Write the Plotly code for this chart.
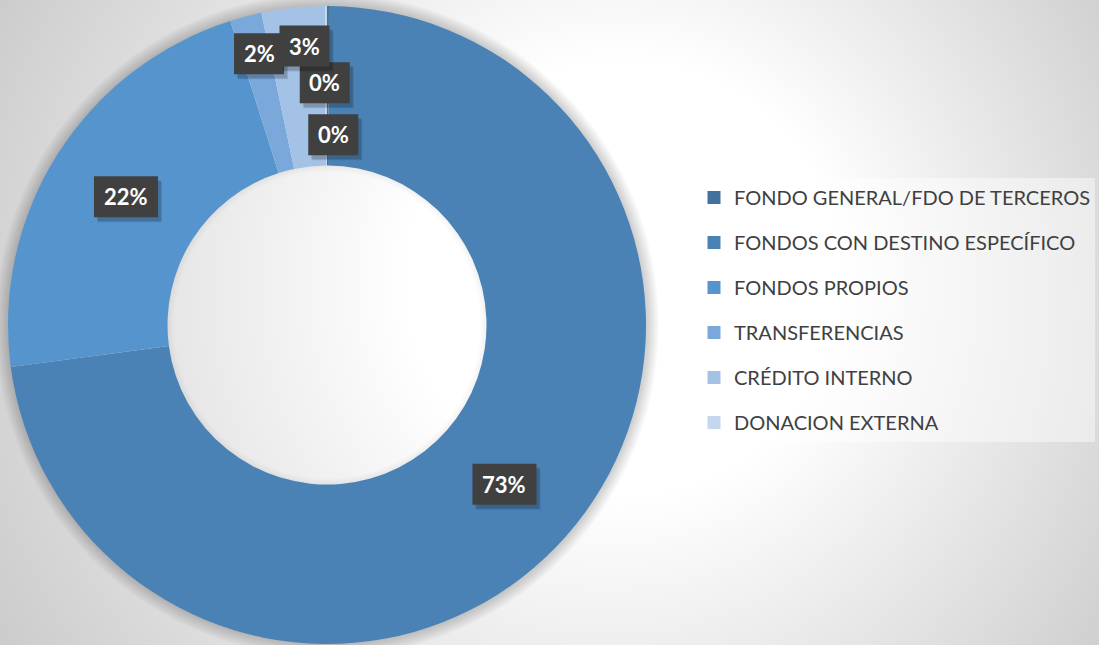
import base64
import math
import plotly.graph_objects as go

# ---------------- data ----------------
categories = [
    "FONDO GENERAL/FDO DE TERCEROS",
    "FONDOS CON DESTINO ESPECÍFICO",
    "FONDOS PROPIOS",
    "TRANSFERENCIAS",
    "CRÉDITO INTERNO",
    "DONACION EXTERNA",
]
values = [0.1, 72.8, 22.2, 1.6, 3.2, 0.1]

# ---------------- styles ----------------
colors = ["#41719c", "#4a82b5", "#5594cc", "#7aa8da", "#a3c2e5", "#c5d7ee"]
# pixel nudges for the data labels (collision avoidance like the original)
label_nudge = [(-3, -3), (-2, 1), (1, 0), (-7, -40), (3, -41), (7, 49)]

W, H = 1099, 645
CX, CY, R_OUT = 327, 325, 319
HOLE = 0.5
R_IN = R_OUT * HOLE
R_MID = (R_OUT + R_IN) / 2

dom_x = [(CX - R_OUT) / W, (CX + R_OUT) / W]
dom_y = [1 - (CY + R_OUT) / H, 1 - (CY - R_OUT) / H]

fig = go.Figure()
fig.add_trace(go.Pie(
    labels=categories,
    values=values,
    hole=HOLE,
    sort=False,
    direction="clockwise",
    rotation=0,
    marker=dict(colors=colors, line=dict(width=0)),
    textinfo="none",
    showlegend=False,
    domain=dict(x=dom_x, y=dom_y),
))

# legend entries (one per category)
for i, (cat, col) in enumerate(zip(categories, colors)):
    fig.add_trace(go.Scatter(
        x=[None], y=[None], mode="markers", name=cat,
        marker=dict(symbol="square", size=13, color=col),
        legendgroup=f"g{i}", showlegend=True, hoverinfo="skip",
    ))


def circle_pts(r, n=120):
    pts = []
    for k in range(n):
        a = 2 * math.pi * k / n
        x = (CX + r * math.cos(a)) / W
        y = 1 - (CY + r * math.sin(a)) / H
        pts.append(f"{x:.5f},{y:.5f}")
    return "M" + " L".join(pts) + " Z"


shapes = []
# soft outer glow around the doughnut (rings only)
for k in range(1, 9):
    r = R_OUT + k * 1.6
    shapes.append(dict(
        type="path", xref="paper", yref="paper", layer="below",
        path=circle_pts(r) + " " + circle_pts(R_OUT - 2),
        fillrule="evenodd",
        fillcolor="rgba(0,0,0,0.022)", line=dict(width=0),
    ))
# slight inner shade in the hole
for k in range(1, 5):
    r = R_IN - k * 1.5
    shapes.append(dict(
        type="path", xref="paper", yref="paper", layer="below",
        path=circle_pts(R_IN + 2) + " " + circle_pts(r),
        fillrule="evenodd",
        fillcolor="rgba(0,0,0,0.012)", line=dict(width=0),
    ))

# data labels computed from the values (dark boxes with a drop shadow)
total = sum(values)
cum = 0.0
annotations = []
for i, v in enumerate(values):
    mid = (cum + v / 2) / total * 2 * math.pi
    cum += v
    px = CX + R_MID * math.sin(mid) + label_nudge[i][0]
    py = CY - R_MID * math.cos(mid) + label_nudge[i][1]
    txt = f"{round(v / total * 100)}%"
    xp, yp = px / W, 1 - py / H
    bw, bh = 22 + 14 * len(txt), 41
    for (dx, dy, col) in [(4, -5, "rgba(0,0,0,0.10)"), (3, -4, "rgba(0,0,0,0.14)"),
                          (0, 0, "#404040")]:
        shapes.append(dict(
            type="rect", layer="above",
            xref="paper", yref="paper", xsizemode="pixel", ysizemode="pixel",
            xanchor=xp, yanchor=yp,
            x0=-bw / 2 + dx, x1=bw / 2 + dx, y0=-bh / 2 + dy, y1=bh / 2 + dy,
            fillcolor=col, line=dict(width=0),
        ))
    annotations.append(dict(
        x=xp, y=yp, xref="paper", yref="paper", showarrow=False,
        xanchor="center", yanchor="middle",
        text=f"<b>{txt}</b>", font=dict(family="Lato", size=22, color="#ffffff"),
    ))

svg = (
    '<svg xmlns="http://www.w3.org/2000/svg" width="1099" height="645" viewBox="0 0 1099 645" '
    'preserveAspectRatio="none">'
    '<defs><radialGradient id="g" gradientUnits="userSpaceOnUse" cx="560" cy="320" r="720" fx="650" fy="260">'
    '<stop offset="0" stop-color="#ffffff"/><stop offset="0.3" stop-color="#ffffff"/>'
    '<stop offset="1" stop-color="#c4c4c4"/></radialGradient></defs>'
    '<rect width="1099" height="645" fill="url(#g)"/></svg>'
)
bg_src = "data:image/svg+xml;base64," + base64.b64encode(svg.encode()).decode()

fig.update_layout(
    width=W, height=H,
    margin=dict(l=0, r=0, t=0, b=0),
    paper_bgcolor="#e6e6e6",
    plot_bgcolor="rgba(0,0,0,0)",
    xaxis=dict(visible=False),
    yaxis=dict(visible=False),
    images=[dict(source=bg_src, xref="paper", yref="paper", x=0, y=1, sizex=1, sizey=1,
                 xanchor="left", yanchor="top", sizing="stretch", layer="below")],
    shapes=shapes,
    annotations=annotations,
    legend=dict(
        x=694 / W, y=1 - 178 / H, xanchor="left", yanchor="top",
        bgcolor="rgba(255,255,255,0.45)",
        font=dict(family="Lato", size=20, color="#404040"),
        tracegroupgap=16, itemwidth=30,
    ),
)

fig.write_html("out.html", config={"displayModeBar": False},
               post_script="document.body.style.margin='0';")
